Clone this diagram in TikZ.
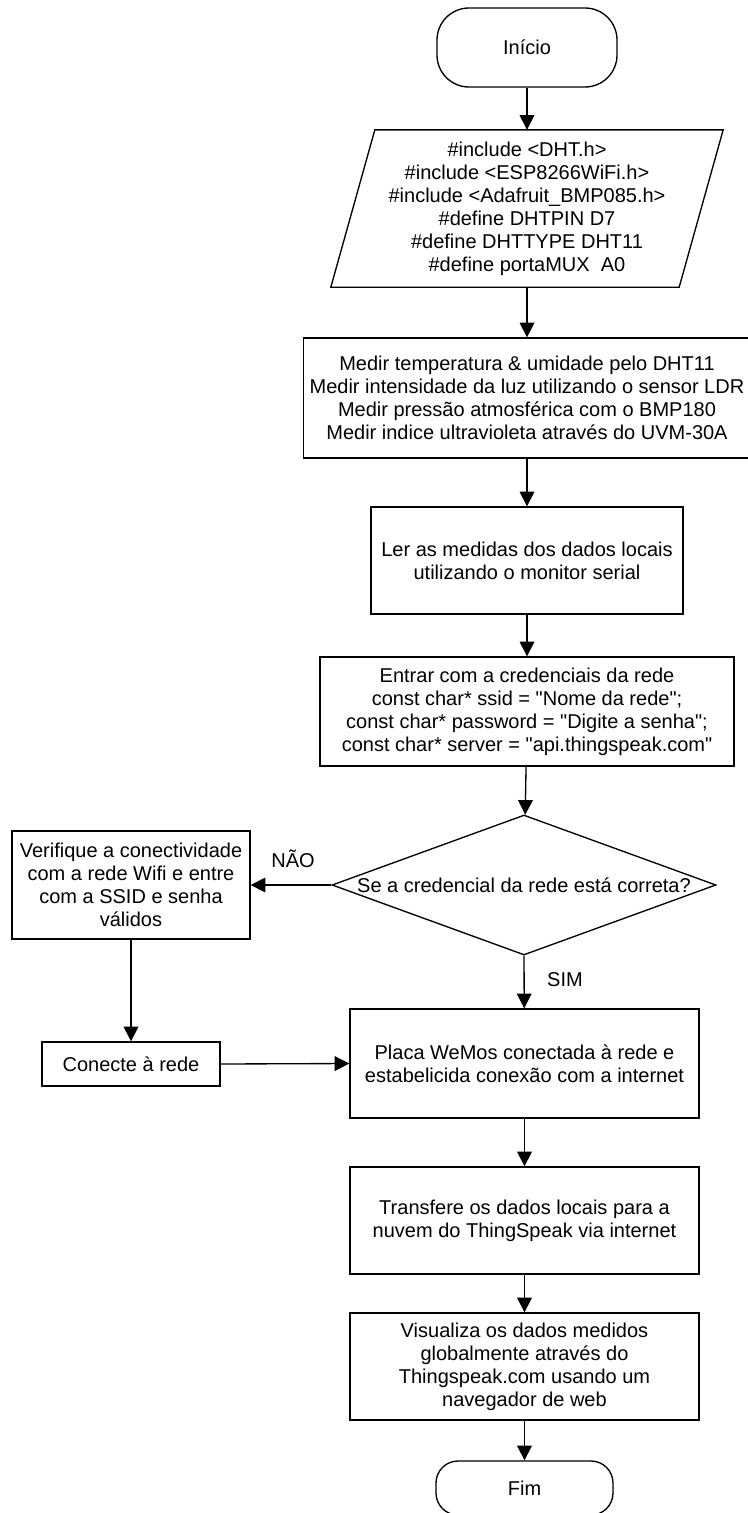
\documentclass[tikz,border=0pt]{standalone}
\usepackage{fontspec}
\setmainfont{Liberation Sans}[Ligatures=TeXOff]
\usepackage{tikz}
\usetikzlibrary{arrows.meta,shapes.geometric}

\tikzset{
  proc/.style={draw, rectangle, inner sep=0pt, align=center},
  term/.style={draw, rectangle, inner sep=0pt, align=center},
  io/.style={rectangle, inner sep=0pt, align=center},
  decis/.style={draw, diamond, aspect=2.74, inner sep=0pt, align=center, minimum width=288pt, minimum height=105pt},
  lbl/.style={inner sep=0pt},
  arr/.style={-{Triangle[length=11pt,width=11pt]}}
}

\begin{document}
\begin{tikzpicture}[x=0.75pt,y=0.75pt,yscale=-1,xscale=1,line width=1pt,font=\fontsize{15}{17.25}\selectfont]
\useasboundingbox (0,0) rectangle (748,1513);

%Shape: Terminator
\node[term, minimum width=135pt, minimum height=59.25pt, rounded corners=24pt] (ini) at (527,47.5) {Início};

%Shape: Data
\node[io, minimum width=260.25pt, minimum height=117pt] (inc) at (527,208.5) {\#include <DHT.h>\\ \#include <ESP8266WiFi.h>\\ \#include <Adafruit\_BMP085.h>\\ \#define DHTPIN D7\\ \#define DHTTYPE DHT11\\ \#define portaMUX\ \ A0};
\draw ([xshift=16.5pt]inc.north west) -- ([xshift=16.5pt]inc.north east) -- ([xshift=-16.5pt]inc.south east) -- ([xshift=-16.5pt]inc.south west) -- cycle;

%Shape: Rectangle
\node[proc, minimum width=335.25pt, minimum height=90pt] (med) at (527,398) {Medir temperatura \& umidade pelo DHT11\\ Medir intensidade da luz utilizando o sensor LDR\\ Medir pressão atmosférica com o BMP180\\ Medir indice ultravioleta através do UVM-30A};

%Shape: Rectangle
\node[proc, minimum width=234pt, minimum height=80.25pt] (ler) at (527,560.5) {Ler as medidas dos dados locais\\ utilizando o monitor serial};

%Shape: Rectangle
\node[proc, minimum width=310.5pt, minimum height=81.75pt] (ent) at (527,711.5) {Entrar com a credenciais da rede\\ const char* ssid = "Nome da rede";\\ const char* password = "Digite a senha";\\ const char* server = "api.thingspeak.com"};

%Shape: Diamond
\node[decis] (dec) at (524,885) {Se a credencial da rede está correta?};

%Shape: Rectangle
\node[proc, minimum width=178.5pt, minimum height=81pt] (ver) at (131,885) {Verifique a conectividade\\ com a rede Wifi e entre\\ com a SSID e senha\\ válidos};

%Shape: Rectangle
\node[proc, minimum width=133.5pt, minimum height=33pt] (con) at (131,1064) {Conecte à rede};

%Shape: Rectangle
\node[proc, minimum width=261.75pt, minimum height=81.75pt] (pla) at (524.5,1063.5) {Placa WeMos conectada à rede e\\ estabelicida conexão com a internet};

%Shape: Rectangle
\node[proc, minimum width=261.75pt, minimum height=80.25pt] (tra) at (524.5,1220.5) {Transfere os dados locais para a\\ nuvem do ThingSpeak via internet};

%Shape: Rectangle
\node[proc, minimum width=261.75pt, minimum height=80.25pt] (vis) at (524.5,1366.5) {Visualiza os dados medidos\\ globalmente através do\\ Thingspeak.com usando um\\ navegador de web};

%Shape: Terminator
\node[term, minimum width=132.75pt, minimum height=40.5pt, rounded corners=16.5pt] (fim) at (524.5,1488) {Fim};

% Text Node
\node[lbl] (nao) at (293,859) {NÃO};
% Text Node
\node[lbl] (sim) at (565,980) {SIM};

%Straight Lines
\draw[arr] (ini) -- (inc);
\draw[arr] (inc) -- (med);
\draw[arr] (med) -- (ler);
\draw[arr] (ler) -- (ent);
\draw[arr] (ent) -- (dec);
\draw[arr] (dec.west) -- (ver.east);
\draw[arr] (dec.south) -- (pla);
\draw[arr] (ver) -- (con);
\draw[arr] (con.east) -- (pla.west);
\draw[arr] (pla) -- (tra);
\draw[arr] (tra) -- (vis);
\draw[arr] (vis) -- (fim);

\end{tikzpicture}
\end{document}
